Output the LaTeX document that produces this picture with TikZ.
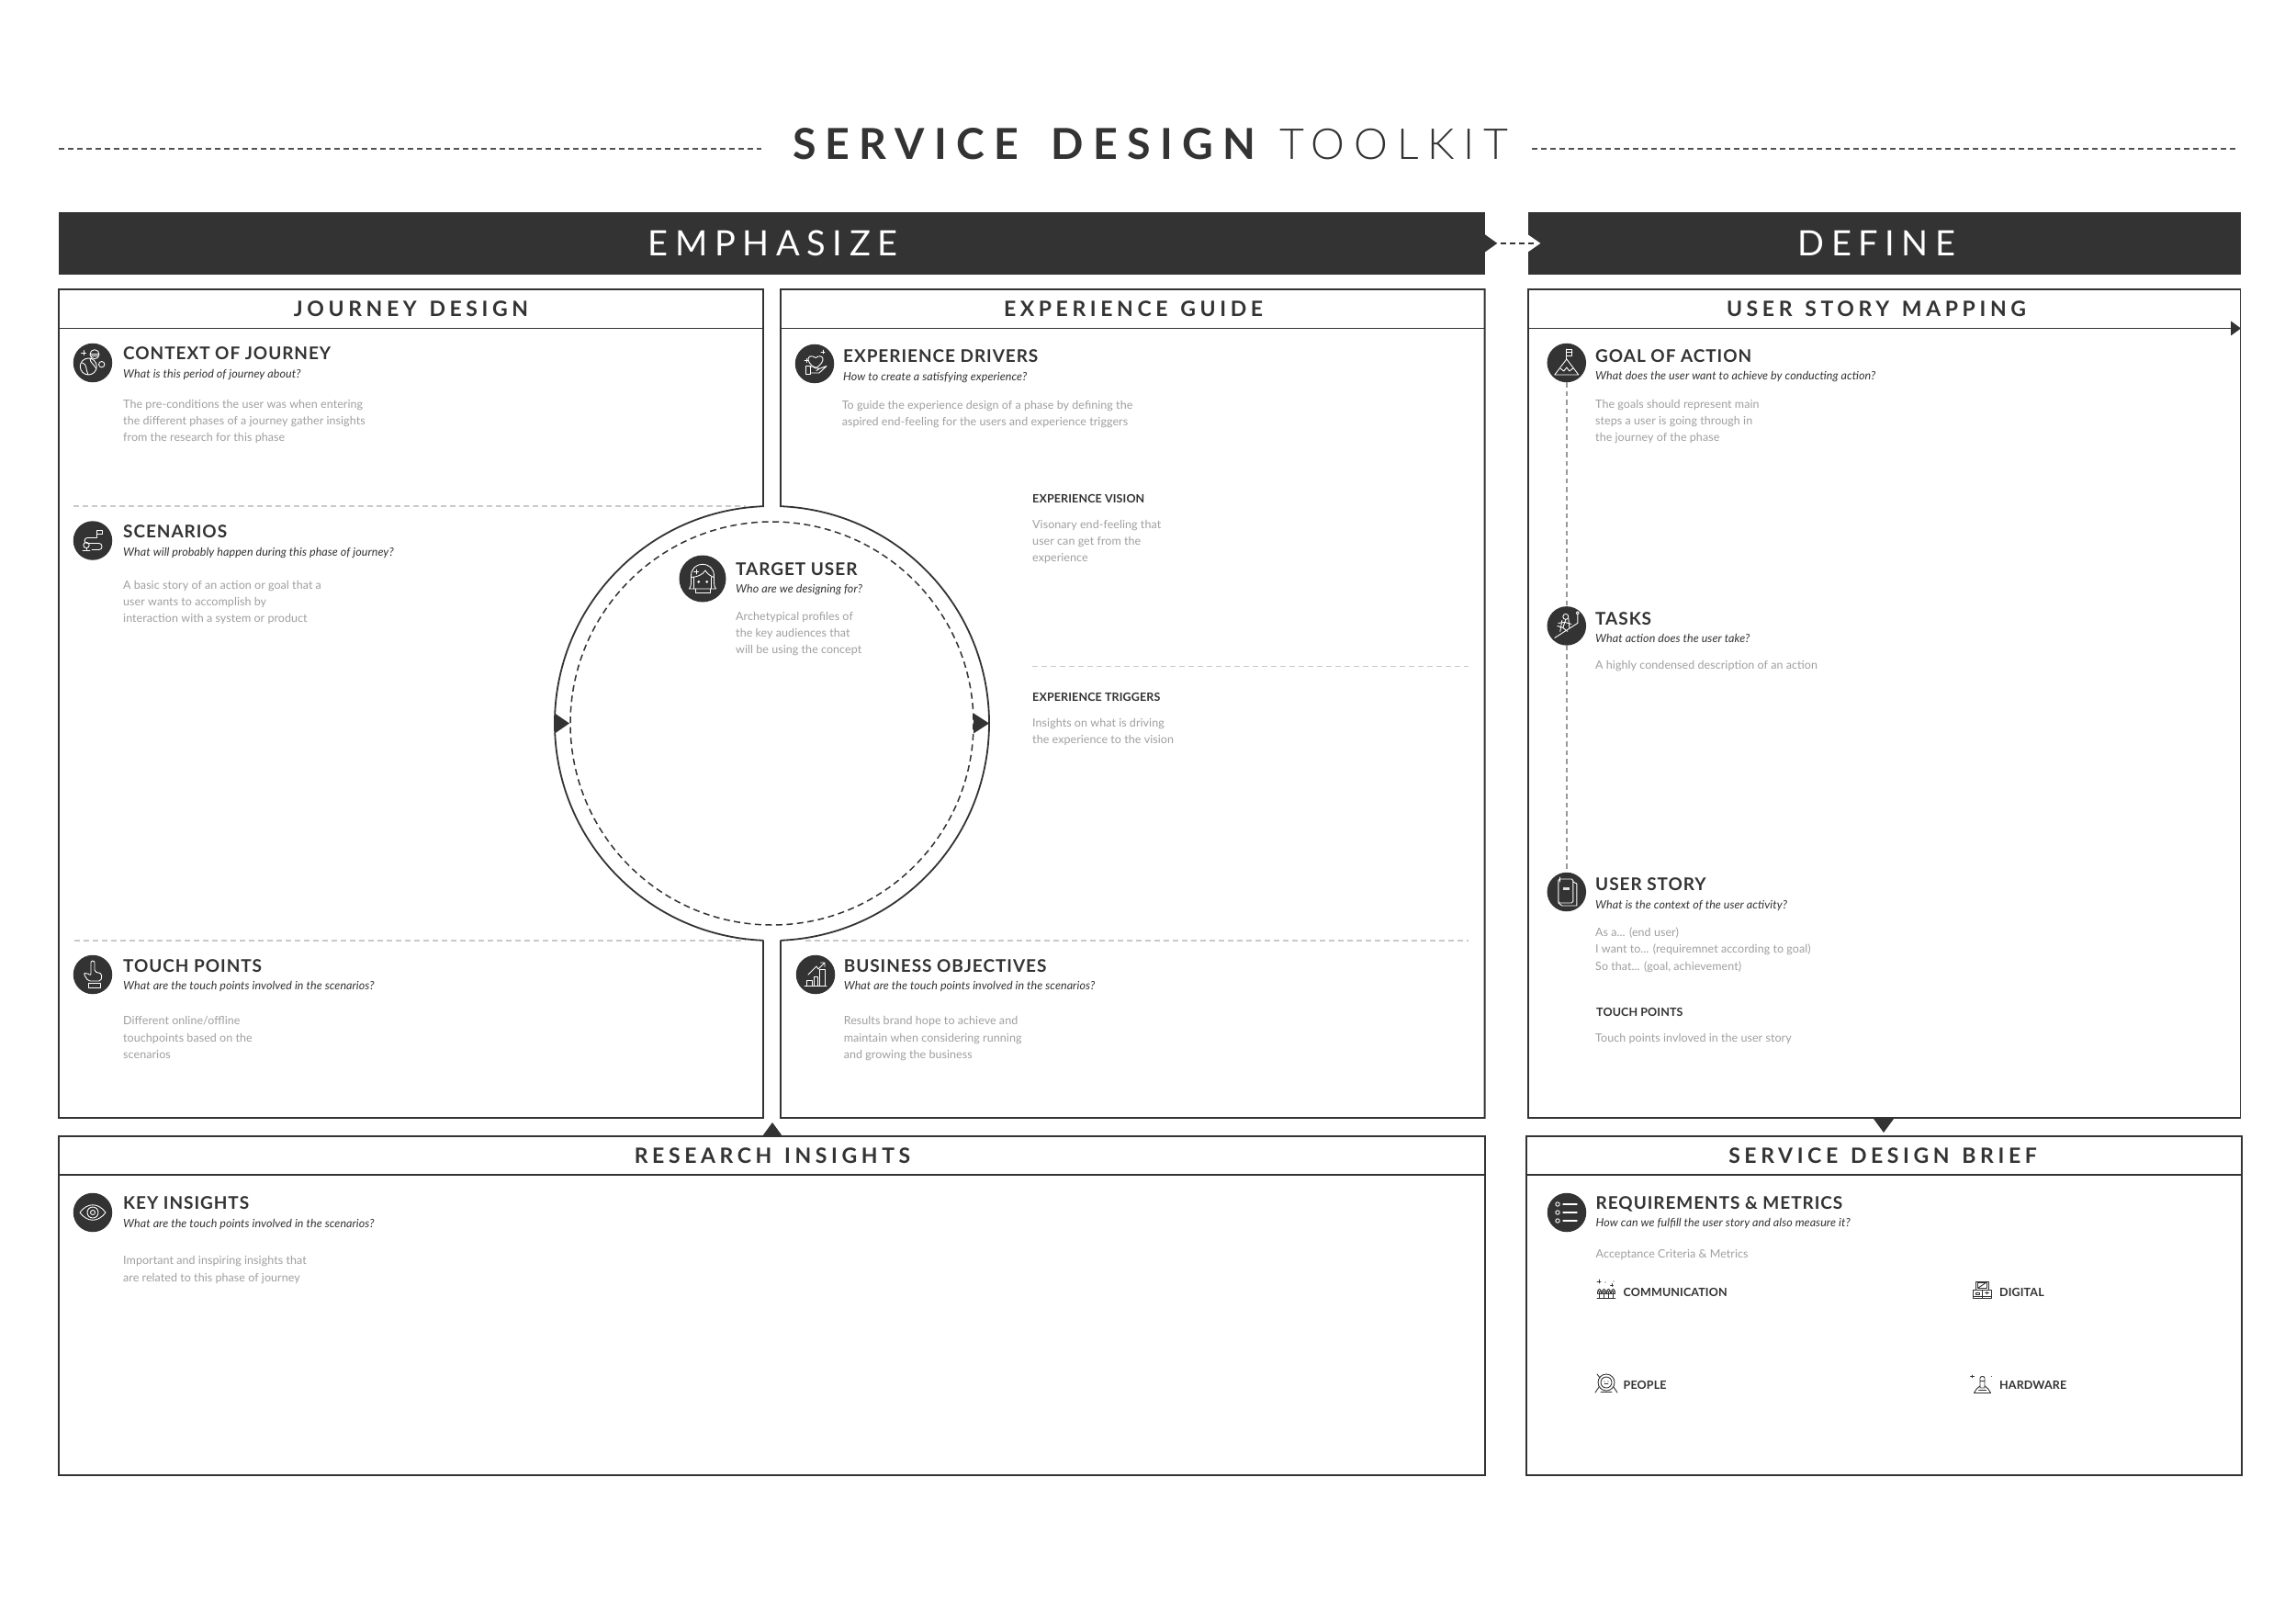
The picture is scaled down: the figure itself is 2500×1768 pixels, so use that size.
\documentclass[tikz,border=0pt]{standalone}
\usepackage{fontspec}
\setmainfont{Lato}
\newfontfamily\lightf{Lato Light}
\usetikzlibrary{calc}
\definecolor{ink}{HTML}{333333}
\definecolor{bodyg}{HTML}{9F9F9F}
\definecolor{ruleg}{HTML}{C9C9C9}
\definecolor{stemg}{HTML}{999999}
\newcommand\tdots{...}
\newcommand\tcomma{,}
\tikzset{
  frame/.style={draw=ink,line width=1.8pt,line join=miter},
  headtxt/.style={inner sep=0pt,text=ink,font={\fontsize{23}{23}\selectfont\bfseries\addfontfeature{LetterSpace=20}\spaceskip=.6em\relax}},
  bartxt/.style={inner sep=0pt,text=white,font={\fontsize{38}{38}\selectfont\addfontfeature{LetterSpace=20}}},
  barbox/.style={fill=ink,inner sep=0pt,minimum height=68pt},
  titletxt/.style={anchor=base west,inner sep=0pt,yshift=-6.8pt,text=ink,font={\fontsize{19}{19}\selectfont\bfseries\addfontfeature{LetterSpace=5}}},
  subtxt/.style={anchor=base west,inner sep=0pt,yshift=-3.8pt,text=ink,font={\fontsize{12.5}{13}\selectfont\itshape\addfontfeature{LetterSpace=0.5}}},
  bodytxt/.style={anchor=base west,inner sep=0pt,yshift=-3.8pt,text=bodyg,font={\fontsize{12.5}{13}\selectfont\addfontfeature{LetterSpace=0.5}}},
  smalltxt/.style={anchor=base west,inner sep=0pt,yshift=-4.4pt,text=ink,font={\fontsize{12.5}{13}\selectfont\bfseries\addfontfeature{LetterSpace=1}}},
  iconc/.style={circle,fill=ink,inner sep=0pt,minimum size=42.5pt},
  iconb/.style={circle,fill=ink,inner sep=0pt,minimum size=51pt},
  wl/.style={draw=white,line width=0.9pt,line join=round,line cap=round},
  dl/.style={draw=ink,line width=0.9pt,line join=round,line cap=round},
  topdash/.style={draw=ink!85,line width=1.5pt,dash pattern=on 6pt off 4pt},
  softdash/.style={draw=ruleg,line width=1.5pt,dash pattern=on 6pt off 4pt},
  stemdash/.style={draw=stemg,line width=1.5pt,dash pattern=on 5.5pt off 4pt},
  ringdash/.style={draw=ink,line width=1.5pt,dash pattern=on 7pt off 4.5pt},
  pics/icplanet/.style={code={
    \draw[wl] (-4.7,4) circle (9);
    \draw[wl] (-11.5,0) .. controls (-6,1) and (-8,7) .. (-5,13);
    \draw[wl] (-3,-5) .. controls (-3,0) and (1,1) .. (3.5,6);
    \draw[wl] (2,-9.3) circle (5);
    \draw[wl] (-2.5,-10) -- (6.5,-10) (-2,-7.5) -- (6,-7.5);
    \draw[wl] (9.7,1.7) circle (3.2);
    \draw[wl] (-10,-13.5) -- (-10,-8.5) (-12.5,-11) -- (-7.5,-11);
  }},
  pics/icroute/.style={code={
    \draw[wl,rounded corners=3.2] (4,-3) -- (-9,-3) -- (-9,3) -- (10,3) -- (10,10) -- (-1,10);
    \draw[wl] (4.7,-3) -- (4.7,-11);
    \draw[wl] (4.7,-11) rectangle (10.7,-7);
    \draw[wl] (-7,5) circle (3.2);
    \draw[wl] (-7,8.2) -- (-7,10) (-11,11) -- (-3,11);
  }},
  pics/ichand/.style={code={
    \draw[wl,rounded corners=2] (-2,-15) -- (2,-15) -- (2,-3) -- (10,-1) -- (9,7) -- (-5,7) -- (-10,-1) -- (-7,-2) -- (-2,1) -- cycle;
    \draw[wl] (-5,9) rectangle (8,14);
  }},
  pics/icheart/.style={code={
    \draw[wl] (1,5) .. controls (-12,-3) and (-7,-12) .. (1,-6.5) .. controls (9,-12) and (14,-3) .. (1,5);
    \draw[wl] (-10,2) rectangle (-5,11);
    \draw[wl] (-5,3.5) .. controls (-1,1.5) and (1,5) .. (5,5.5) (2,7.5) -- (5,5.5) -- (13,2.5) -- (5,10) -- (-5,10);
    \draw[wl] (-9,-5.5) -- (-9,-1.5) (-11,-3.5) -- (-7,-3.5);
    \draw[wl] (9,-15) -- (9,-11) (7,-13) -- (11,-13);
  }},
  pics/icchart/.style={code={
    \draw[wl] (-12,12.5) -- (12,12.5);
    \draw[wl] (-10,12.5) rectangle (-4,6);
    \draw[wl] (-2,12.5) rectangle (2.7,2);
    \draw[wl] (4.7,12.5) rectangle (10,-6);
    \draw[wl] (-8,0) -- (1,-9) -- (3,-6) -- (10,-13) (5.5,-13) -- (10,-13) -- (10,-8.5);
  }},
  pics/iceye/.style={code={
    \draw[wl] (-14,0) .. controls (-6,-11) and (6,-11) .. (14,0) .. controls (6,11) and (-6,11) .. (-14,0);
    \draw[wl] (0,0) circle (6);
    \draw[wl] (0,0) circle (2.5);
  }},
  pics/icface/.style={code={
    \draw[wl] (-14.5,11) .. controls (-12,8) and (-12.5,4) .. (-12.5,-3) .. controls (-12.5,-20) and (12.5,-20) .. (12.5,-3) .. controls (12.5,4) and (12,8) .. (14.5,11) -- (-14.5,11);
    \draw[wl] (-12,-1.5) .. controls (-6,-2) and (0,-4) .. (3,-9) .. controls (5,-5) and (9,-3) .. (12,-1.5);
    \draw[wl] (-9.5,-1.5) -- (-9.5,11) (9.5,-1.5) -- (9.5,11);
    \draw[wl] (-8,11) -- (-8,15) -- (8,15) -- (8,11);
    \fill[white] (-4.3,3.3) circle (1.5) (4.7,3.3) circle (1.5);
    \draw[wl] (-7,-10) -- (-7,-5) (-9.5,-7.5) -- (-4.5,-7.5);
  }},
  pics/icflag/.style={code={
    \draw[wl] (-13,13) -- (0,-4) -- (13,13) -- cycle;
    \draw[wl] (-7,6) -- (-3,9) -- (0,5) -- (3,9) -- (7,6);
    \draw[wl] (0,-4) -- (0,-15);
    \draw[wl] (0,-15) rectangle (6,-8);
    \draw[wl] (0,-11.5) -- (6,-11.5);
  }},
  pics/icrun/.style={code={
    \draw[wl] (-13,13) -- (12,-3) -- (12,-12);
    \draw[wl] (12,-14) circle (1.6);
    \draw[wl] (-1,-10) circle (3);
    \draw[wl] (-1,-7) -- (-4,2) -- (-10,0) (-4,2) -- (1,6);
    \draw[wl] (-2,-4) -- (5,-2) (-2,-4) -- (-9,-3);
    \draw[wl] (-5,-6) -- (-7,6) (2,-8) -- (3,2);
  }},
  pics/icnote/.style={code={
    \draw[wl,rounded corners=1.5] (-9,-14) rectangle (7,12);
    \draw[wl] (7,-11) -- (11,-9) -- (11,15) -- (-5,15) -- (-9,12);
    \fill[white!85!ink] (-4,-5) rectangle (3,-2);
    \draw[wl] (-7,-16) -- (-7,-11);
  }},
  pics/iclist/.style={code={
    \foreach \yy in {-9,0,9} {
      \draw[wl] (-10,\yy) circle (2.2);
      \draw[wl,line width=1.3pt] (-4,\yy) -- (11,\yy);
    }
  }},
  pics/smcrowd/.style={code={
    \foreach \xx in {-7.5,-2.5,2.5,7.5} {
      \draw[dl] (\xx,0) circle (1.8);
      \draw[dl] (\xx,1.8) -- (\xx,8) (\xx-2.2,1) -- (\xx-2.2,3.5) -- (\xx+2.2,3.5) -- (\xx+2.2,1);
    }
    \draw[dl] (-8,-12) -- (-8,-8) (-10,-10) -- (-6,-10);
    \draw[dl] (6,-7.5) -- (6,-4.5) (4.5,-6) -- (7.5,-6);
    \fill[ink] (-1,-9) circle (.6) (8,-10) circle (.6);
    \draw[dl] (-10,8.5) -- (10,8.5);
  }},
  pics/smcomp/.style={code={
    \draw[dl] (-7,-15) rectangle (7,-1);
    \draw[dl] (-5,-13) rectangle (5,-4);
    \draw[dl] (-4,-5) -- (3,-12);
    \draw[dl] (-10,-1) rectangle (10,13);
    \draw[dl] (0,-1) -- (0,13) (-10,9) -- (10,9);
    \draw[dl] (-7,3) rectangle (-3,6);
    \draw[dl] (5,2) -- (5,6) (3,4) -- (7,4);
  }},
  pics/smastro/.style={code={
    \draw[dl] (0,-2) circle (9);
    \draw[dl] (0,-2) circle (6);
    \fill[ink] (-2,-3) circle (.7) (2,-3) circle (.7);
    \draw[dl] (-2,-.5) -- (2,-.5);
    \draw[dl] (-8,3) -- (-12,9) (8,3) -- (12,9);
    \draw[dl] (-6,8.5) -- (6,8.5);
    \draw[dl] (-10,-11) -- (-7,-7);
  }},
  pics/smrocket/.style={code={
    \draw[dl] (-2.5,6) -- (-2.5,-10) .. controls (-2.5,-14) and (2.5,-14) .. (2.5,-10) -- (2.5,6) -- cycle;
    \draw[dl] (-2.5,-6) -- (2.5,-6);
    \draw[dl] (-9,14) -- (-6,7) -- (-2.5,3) (9,14) -- (6,7) -- (2.5,3);
    \draw[dl] (-9,14) -- (9,14) (-4,10) -- (4,10);
    \draw[dl] (-11,-15) -- (-11,-11) (-13,-13) -- (-9,-13);
    \fill[ink] (10,-13) circle (.7);
  }},
}
\newcommand\bodylines[5]{%
  \foreach \ltxt [count=\li] in {#5}
    \node[bodytxt] (#1-\li) at ({#2},{#3+#4*(\li-1)}) {\ltxt};%
}
\begin{document}
\begin{tikzpicture}[x=1pt,y=-1pt]
\useasboundingbox (0,0) rectangle (2500,1768);
\fill[white] (0,0) rectangle (2500,1768);

% title
\coordinate (tl1) at (64,162); \coordinate (tl2) at (829,162);
\coordinate (tr1) at (1668,162); \coordinate (tr2) at (2434,162);
\draw[topdash] (tl1) -- (tl2);
\draw[topdash] (tr1) -- (tr2);
\node[anchor=base west,inner sep=0pt,text=ink,font={\fontsize{46.5}{46}\selectfont\bfseries\addfontfeature{LetterSpace=22}\spaceskip=.76em\relax}] (ttl) at (863,173.5) {SERVICE DESIGN};
\node[anchor=base west,inner sep=0pt,text=ink,font={\fontsize{46.5}{46}\lightf\addfontfeature{LetterSpace=21}\selectfont}] (ttr) at (1393,173.5) {TOOLKIT};

% bars
\node[barbox,anchor=north west,minimum width=1552.6pt] (emph) at (64,230.7) {};
\node[barbox,anchor=north west,minimum width=776.3pt] (defn) at (1663.7,230.7) {};
\node[bartxt] (emphT) at (841.5,265) {EMPHASIZE};
\node[bartxt] (defnT) at (2043.5,265) {DEFINE};
\fill[ink] ($(emph.east)+(0,-9.5)$) -- ($(emph.east)+(13.3,0)$) -- ($(emph.east)+(0,9.5)$) -- cycle;
\fill[white] ($(defn.west)+(0,-9.5)$) -- ($(defn.west)+(13.6,0)$) -- ($(defn.west)+(0,9.5)$) -- cycle;
\coordinate (linkA) at ($(emph.east)+(17,0)$);
\coordinate (linkB) at ($(defn.west)+(10,0)$);
\draw[draw=ink,line width=1.8pt,dash pattern=on 6pt off 4pt] (linkA) -- (linkB);

% soft dashed rules
\coordinate (r1a) at (80,551); \coordinate (r1b) at (812,551);
\coordinate (r2a) at (81,1024); \coordinate (r2b) at (812,1024);
\coordinate (r3a) at (877,1024); \coordinate (r3b) at (1599,1024);
\coordinate (r4a) at (1124,725.5); \coordinate (r4b) at (1599,725.5);
\draw[softdash] (r1a) -- (r1b);
\draw[softdash] (r2a) -- (r2b);
\draw[softdash] (r3a) -- (r3b);
\draw[softdash] (r4a) -- (r4b);

% frames
\draw[frame] (831,1023.7) -- (831,1217) -- (64,1217) -- (64,315) -- (831,315) -- (831,551.2)
  arc[start angle=267.7,end angle=92.3,radius=236.5];
\draw[frame] (64,357.5) -- (831,357.5);
\draw[frame] (850,1023.7) -- (850,1217) -- (1616.6,1217) -- (1616.6,315) -- (850,315) -- (850,551.2)
  arc[start angle=-87.7,end angle=87.7,radius=236.5];
\draw[frame] (850,357.5) -- (1616.6,357.5);
\draw[frame] (1663.7,315) rectangle (2439.5,1217);
\draw[frame] (1663.7,357.5) -- (2439.5,357.5);
\draw[frame,line width=2pt] (64,1237) rectangle (1616.6,1606);
\draw[frame] (64,1279) -- (1616.6,1279);
\draw[frame,line width=2pt] (1662,1237) rectangle (2440.5,1606);
\draw[frame] (1662,1279) -- (2440.5,1279);
\coordinate (ringc) at (840.5,787.5);
\draw[ringdash] (ringc) circle (219.5);

% arrowheads
\fill[ink] (604,776.5) -- (620,787.5) -- (604,798.5) -- cycle;
\fill[ink] (1060,776.5) -- (1077,787.5) -- (1060,798.5) -- cycle;
\fill[ink] (830,1237) -- (841,1222) -- (852,1237) -- cycle;
\fill[ink] (2040,1218) -- (2051,1233) -- (2062,1218) -- cycle;
\fill[ink] (2429,349.5) -- (2440,357.5) -- (2429,365.5) -- cycle;

% section heads
\node[headtxt] (hJ) at (447.5,336.5) {JOURNEY DESIGN};
\node[headtxt] (hE) at (1234,336.5) {EXPERIENCE GUIDE};
\node[headtxt] (hU) at (2043,336.5) {USER STORY MAPPING};
\node[headtxt] (hR) at (841,1258) {RESEARCH INSIGHTS};
\node[headtxt] (hS) at (2050,1258) {SERVICE DESIGN BRIEF};

% icons
\node[iconc] (iContext) at (101,395) {};
\node[iconc] (iScen) at (101,588.5) {};
\node[iconc] (iTouch) at (101,1061) {};
\node[iconc] (iKey) at (101,1320) {};
\node[iconc] (iDrivers) at (887,396) {};
\node[iconc] (iBiz) at (888,1061) {};
\node[iconb] (iTarget) at (765,630) {};
\node[iconc] (iGoal) at (1705.8,395) {};
\node[iconc] (iTasks) at (1705.8,681.4) {};
\node[iconc] (iStory) at (1705.8,971) {};
\node[iconc] (iReq) at (1706,1320) {};
\draw[stemdash] (iGoal) -- (iTasks);
\draw[stemdash] (iTasks) -- (iStory);
\pic at (iContext) {icplanet};
\pic at (iScen) {icroute};
\pic at (iTouch) {ichand};
\pic at (iKey) {iceye};
\pic at (iDrivers) {icheart};
\pic at (iBiz) {icchart};
\pic at (iTarget) {icface};
\pic at (iGoal) {icflag};
\pic at (iTasks) {icrun};
\pic at (iStory) {icnote};
\pic at (iReq) {iclist};

% journey design
\node[titletxt] (tContext) at (134,385) {CONTEXT OF JOURNEY};
\node[subtxt] (sContext) at (134,408) {What is this period of journey about?};
\bodylines{bContext}{134}{441}{18}{The pre-conditions the user was when entering,the different phases of a journey gather insights,from the research for this phase}
\node[titletxt] (tScen) at (134,579) {SCENARIOS};
\node[subtxt] (sScen) at (134,601.5) {What will probably happen during this phase of journey?};
\bodylines{bScen}{134}{637.5}{18}{A basic story of an action or goal that a,user wants to accomplish by,interaction with a system or product}
\node[titletxt] (tTouch) at (134,1052) {TOUCH POINTS};
\node[subtxt] (sTouch) at (134,1074) {What are the touch points involved in the scenarios?};
\bodylines{bTouch}{134}{1112}{18.2}{Different online/offline,touchpoints based on the,scenarios}

% experience guide
\node[titletxt] (tDrivers) at (918,388) {EXPERIENCE DRIVERS};
\node[subtxt] (sDrivers) at (918,410.5) {How to create a satisfying experience?};
\bodylines{bDrivers}{916.6}{441.5}{18}{To guide the experience design of a phase by defining the,aspired end-feeling for the users and experience triggers}
\node[smalltxt] (tVision) at (1124,543) {EXPERIENCE VISION};
\bodylines{bVision}{1124}{571.5}{18}{Visonary end-feeling that,user can get from the,experience}
\node[smalltxt] (tTrig) at (1124,759) {EXPERIENCE TRIGGERS};
\bodylines{bTrig}{1124}{787.5}{18}{Insights on what is driving,the experience to the vision}
\node[titletxt] (tBiz) at (918.6,1052) {BUSINESS OBJECTIVES};
\node[subtxt] (sBiz) at (918.6,1074) {What are the touch points involved in the scenarios?};
\bodylines{bBiz}{918.6}{1112}{18.2}{Results brand hope to achieve and,maintain when considering running,and growing the business}

% target user
\node[titletxt] (tTarget) at (801,619.5) {TARGET USER};
\node[subtxt] (sTarget) at (801,641.5) {Who are we designing for?};
\bodylines{bTarget}{801}{671.5}{18.3}{Archetypical profiles of,the key audiences that,will be using the concept}

% user story mapping
\node[titletxt] (tGoal) at (1737,387.7) {GOAL OF ACTION};
\node[subtxt] (sGoal) at (1737,410) {What does the user want to achieve by conducting action?};
\bodylines{bGoal}{1737}{441}{18}{The goals should represent main,steps a user is going through in,the journey of the phase}
\node[titletxt] (tTasks) at (1737,673.6) {TASKS};
\node[subtxt] (sTasks) at (1737,696) {What action does the user take?};
\bodylines{bTasks}{1737}{725}{18}{A highly condensed description of an action}
\node[titletxt] (tStory) at (1737,963) {USER STORY};
\node[subtxt] (sStory) at (1737,985.4) {What is the context of the user activity?};
\bodylines{bStory}{1737}{1015.7}{18.4}{As a\tdots{} (end user),I want to\tdots{} (requiremnet according to goal),So that\tdots{} (goal\tcomma{} achievement)}
\node[smalltxt] (tTp) at (1738,1102.5) {TOUCH POINTS};
\bodylines{bTp}{1737}{1130.4}{18}{Touch points invloved in the user story}

% research insights
\node[titletxt] (tKey) at (134,1310) {KEY INSIGHTS};
\node[subtxt] (sKey) at (134,1333) {What are the touch points involved in the scenarios?};
\bodylines{bKey}{134}{1373}{18.5}{Important and inspiring insights that,are related to this phase of journey}

% service design brief
\node[titletxt] (tReq) at (1737.5,1310) {REQUIREMENTS \& METRICS};
\node[subtxt] (sReq) at (1737.5,1332) {How can we fulfill the user story and also measure it?};
\bodylines{bReq}{1737.5}{1366}{18}{Acceptance Criteria \& Metrics}
\node[smalltxt] (tComm) at (1767.5,1407.5) {COMMUNICATION};
\node[smalltxt] (tDig) at (2177,1407.5) {DIGITAL};
\node[smalltxt] (tPeo) at (1767.5,1508) {PEOPLE};
\node[smalltxt] (tHard) at (2177,1508) {HARDWARE};
\pic at (1749,1405) {smcrowd};
\pic[yscale=.66] at (2158.5,1405) {smcomp};
\pic at (1749,1507) {smastro};
\pic[yscale=.66] at (2158.5,1507) {smrocket};
\end{tikzpicture}
\end{document}
